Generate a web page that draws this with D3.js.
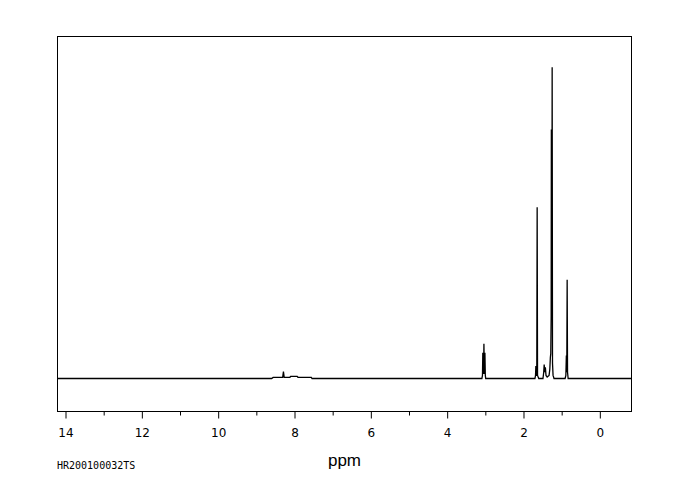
<!DOCTYPE html>
<html><head><meta charset="utf-8">
<script src="https://cdn.jsdelivr.net/npm/d3@7"></script>
<style>body{margin:0;background:#fff}svg{display:block}</style>
</head><body>
<svg id="c" width="680" height="500"></svg>
<script>
// ppm values (descending) and intensities
const ppm = [14.21,8.60,8.56,8.31,8.29,8.27,8.12,8.10,7.93,7.91,7.56,7.54,
  3.09,3.075,3.066,3.055,3.045,3.037,3.025,3.018,3.011,3.0,2.99,
  1.70,1.685,1.676,1.665,1.652,1.642,1.632,1.60,
  1.49,1.47,1.458,1.443,1.427,1.41,1.38,1.33,1.31,1.296,1.285,1.275,1.270,1.262,1.256,1.249,1.24,1.225,1.20,
  0.91,0.89,0.877,0.866,0.856,0.846,0.83,-0.83];
const intensity = [0,0,0.35,0.35,2.2,0.35,0.4,0.7,0.7,0.4,0.35,0,
  0,1,8.3,1.5,2,11.2,2,1.5,8.3,1,0,
  0,1,4,1,1,55,1,0,
  0,2,4.5,2,3.6,1,0.5,1,3,6.8,8,20,80,25,30,100,5,1,0,
  0,1,7.4,2,31.7,2,0,0];
const tickValues = [14,12,10,8,6,4,2,0];
const minorTicks = [13,11,9,7,5,3,1];
const xTitle = "ppm";
const sampleId = "HR200100032TS";

const svg = d3.select("#c");
const L = 57.5, R = 631.5, T = 36.5, B = 411.5;
const x = d3.scaleLinear().domain([14.21, -0.83]).range([L, R]);
const y = d3.scaleLinear().domain([-10.6, 109.9]).range([B, T]);

const data = ppm.map((p, i) => [p, intensity[i]]);

svg.append("rect").attr("x", L).attr("y", T).attr("width", R - L).attr("height", B - T)
  .attr("fill", "none").attr("stroke", "#000").attr("stroke-width", 1);

svg.append("path").datum(data)
  .attr("d", d3.line().x(d => x(d[0])).y(d => y(d[1])))
  .attr("fill", "none").attr("stroke", "#000").attr("stroke-width", 1.3);

const axis = d3.axisBottom(x).tickValues(tickValues).tickSize(7).tickPadding(10)
  .tickFormat(d3.format("d"));
const g = svg.append("g").attr("transform", `translate(0,${B})`).call(axis);
g.select(".domain").remove();
g.selectAll("text").attr("font-family", "DejaVu Sans").attr("font-size", 12).attr("fill", "#000");
g.selectAll("line").attr("stroke", "#000");
const gm = svg.append("g").attr("transform", `translate(0,${B})`)
  .call(d3.axisBottom(x).tickValues(minorTicks).tickSize(4).tickFormat(""));
gm.select(".domain").remove();
gm.selectAll("line").attr("stroke", "#000");

svg.append("text").attr("x", 344.5).attr("y", 466).attr("text-anchor", "middle")
  .attr("font-family", "Liberation Sans").attr("font-size", 17).attr("fill", "#000").text(xTitle);
svg.append("text").attr("x", 57).attr("y", 469)
  .attr("font-family", "DejaVu Sans Mono").attr("font-size", 10).attr("fill", "#000").text(sampleId);
</script>
</body></html>
